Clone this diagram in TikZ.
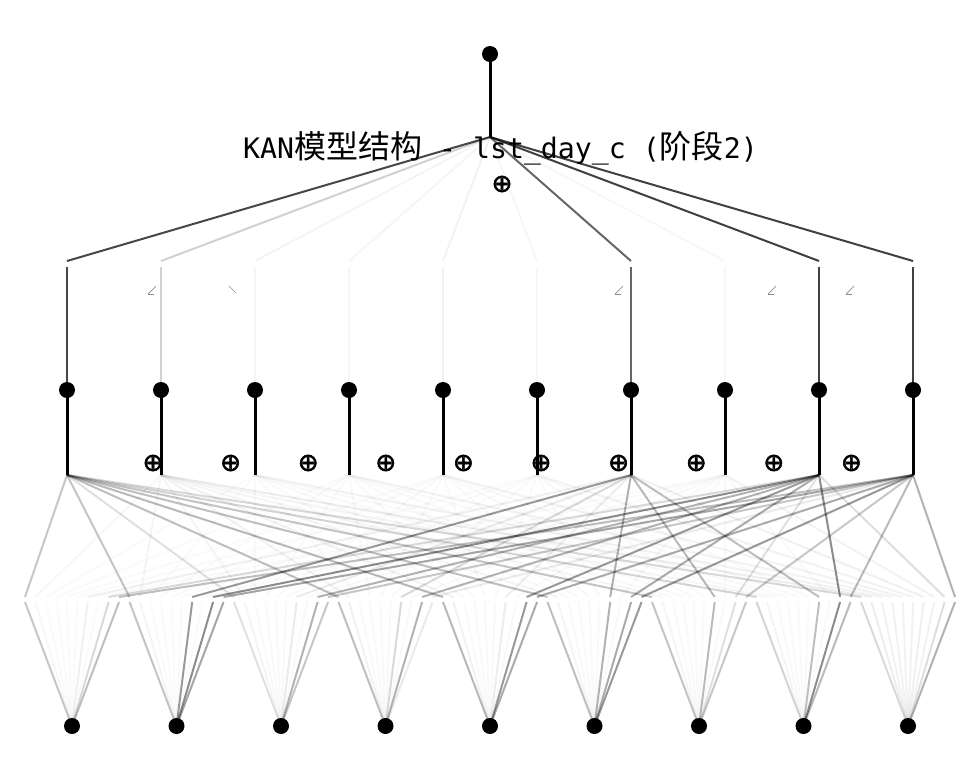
\documentclass[tikz,border=0pt]{standalone}
\usepackage{fontspec}
\newfontfamily\cjkfont{Noto Sans CJK SC}
\newfontfamily\monofont{DejaVu Sans Mono}
\newfontfamily\symfont{DejaVu Sans}[FakeBold=2]
\newcommand\ttlM[1]{{\monofont\fontsize{28.2}{32}\selectfont #1}}
\newcommand\ttlC[1]{{\cjkfont\fontsize{32}{34}\selectfont #1}}
\begin{document}
\begin{tikzpicture}[x=1pt,y=-1pt,
  edge/.style={line width=2pt, draw=black},
  bar/.style={line width=3pt, draw=black},
  dot/.style={circle, fill=black, inner sep=0pt, minimum size=16pt},
  plussym/.style={inner sep=0pt, font=\symfont\fontsize{25}{25}\selectfont},
  tiny/.style={line width=0.7pt, draw=black, draw opacity=0.45}]
\useasboundingbox (0,0) rectangle (980,780);
% positions
\foreach \i in {0,...,8} {
  \pgfmathsetmacro\xx{72+104.5*\i}
  \coordinate (in\i) at (\xx,726);
}
\foreach \j in {0,...,9} {
  \pgfmathsetmacro\xx{67+94*\j}
  \coordinate (hs\j) at (\xx,475);
  \coordinate (hn\j) at (\xx,390);
  \coordinate (ab\j) at (\xx,267);
  \coordinate (at\j) at (\xx,261);
}
\coordinate (os) at (490,137);
\coordinate (out) at (490,54);
% layer 0 edges
\foreach \i/\alist in {
  0/{.22,.03,.02,.02,.02,.02,.06,.02,.15,.25},
  1/{.23,.04,.02,.02,.02,.02,.40,.02,.45,.35},
  2/{.12,.04,.025,.025,.025,.025,.08,.025,.30,.22},
  3/{.25,.05,.025,.025,.025,.025,.15,.025,.30,.08},
  4/{.28,.05,.025,.025,.025,.025,.07,.025,.40,.33},
  5/{.25,.04,.025,.025,.025,.025,.30,.025,.33,.40},
  6/{.23,.04,.025,.025,.025,.025,.27,.025,.12,.22},
  7/{.17,.04,.025,.025,.025,.025,.25,.025,.45,.27},
  8/{.15,.07,.05,.05,.05,.05,.06,.05,.13,.30}} {
  \foreach \a [count=\j from 0] in \alist {
    \pgfmathsetmacro\bx{25+10.45*(10*\i+\j)}
    \coordinate (bb-\i-\j) at (\bx,602);
    \coordinate (bt-\i-\j) at (\bx,597);
    \draw[edge, draw opacity=\a] (in\i) -- (bb-\i-\j);
    \draw[edge, draw opacity=\a] (bt-\i-\j) -- (hs\j);
  }
}
% layer 1 edges
\foreach \b [count=\j from 0] in {.72,.18,.04,.04,.05,.03,.6,.03,.75,.75} {
  \draw[edge, draw opacity=\b] (hn\j) -- (ab\j);
  \draw[edge, draw opacity=\b] (at\j) -- (os);
  \draw[bar] (hn\j) -- (hs\j);
}
\draw[bar] (os) -- (out);
% tiny activation glyphs
\foreach \x in {153,620,773,851} {
  \draw[tiny] (\x-5,294) -- (\x+3,286);
  \draw[tiny] (\x-5,294) -- (\x+1,294);
}
\draw[tiny] (229,286) -- (236,293);
% nodes
\foreach \i in {0,...,8} { \node[dot] (nin\i) at (in\i) {}; }
\foreach \j in {0,...,9} { \node[dot] (nh\j) at (hn\j) {}; }
\node[dot] (nout) at (out) {};
% sum symbols
\foreach \j in {0,...,9} { \node[plussym] (p\j) at ({153+77.6*\j},463) {⊕}; }
\node[plussym] (po) at (502,184) {⊕};
% title
\node[anchor=base west, inner sep=0pt] (title) at (243,158)
  {\ttlM{KAN}\ttlC{模型结构}\ttlM{\ -\ lst\_day\_c\ (}\ttlC{阶段}\ttlM{2)}};
\end{tikzpicture}
\end{document}
